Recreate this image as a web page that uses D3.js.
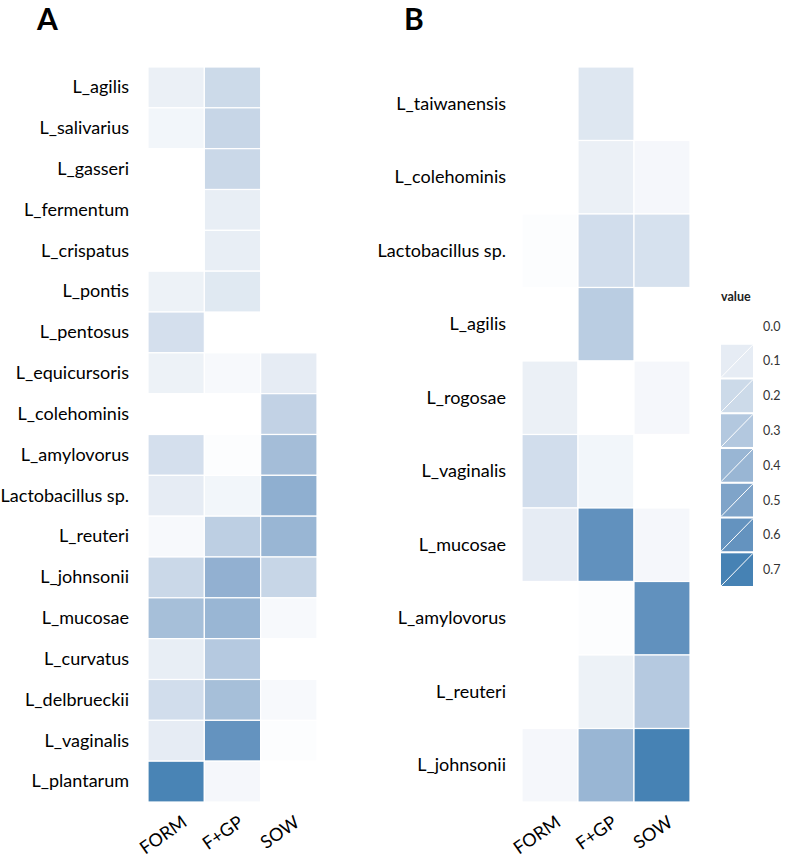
<!DOCTYPE html>
<html>
<head>
<meta charset="utf-8">
<script src="https://cdn.jsdelivr.net/npm/d3@7"></script>
<style>
  body { margin: 0; background: #fff; }
  text { font-family: Lato, sans-serif; }
</style>
</head>
<body>
<div id="app"></div>
<script>
// columns shared by both panels
var groups = ['FORM', 'F+GP', 'SOW'];

// panel A
var speciesA = ['L_agilis', 'L_salivarius', 'L_gasseri', 'L_fermentum', 'L_crispatus',
  'L_pontis', 'L_pentosus', 'L_equicursoris', 'L_colehominis', 'L_amylovorus',
  'Lactobacillus sp.', 'L_reuteri', 'L_johnsonii', 'L_mucosae', 'L_curvatus',
  'L_delbrueckii', 'L_vaginalis', 'L_plantarum'];
var formA = [0.08, 0.05, 0, 0, 0, 0.07, 0.17, 0.07, 0, 0.17, 0.10, 0.03, 0.21, 0.35, 0.09, 0.18, 0.10, 0.69];
var fgpA  = [0.20, 0.22, 0.21, 0.09, 0.09, 0.12, null, 0.03, 0, 0.01, 0.05, 0.26, 0.43, 0.40, 0.29, 0.35, 0.60, 0.04];
var sowA  = [null, null, null, null, null, null, null, 0.10, 0.24, 0.36, 0.44, 0.40, 0.22, 0.03, 0, 0.03, 0.01, 0];

// panel B
var speciesB = ['L_taiwanensis', 'L_colehominis', 'Lactobacillus sp.', 'L_agilis', 'L_rogosae',
  'L_vaginalis', 'L_mucosae', 'L_amylovorus', 'L_reuteri', 'L_johnsonii'];
var formB = [null, null, 0.01, null, 0.08, 0.18, 0.10, 0, 0, 0.04];
var fgpB  = [0.13, 0.08, 0.18, 0.27, 0, 0.05, 0.61, 0.01, 0.07, 0.40];
var sowB  = [null, 0.04, 0.16, null, 0.04, 0, 0.04, 0.61, 0.29, 0.70];

// legend
var legendTicks = [0.0, 0.1, 0.2, 0.3, 0.4, 0.5, 0.6, 0.7];

var width = 785, height = 859;

var svg = d3.select('#app').append('svg')
  .attr('width', width)
  .attr('height', height);

var color = d3.scaleLinear()
  .domain([0, 0.7])
  .range(['#ffffff', '#4682b4'])
  .interpolate(d3.interpolateLab)
  .clamp(true);

function toCells(species, cols) {
  var cells = [];
  species.forEach(function(s, i) {
    cols.forEach(function(col, j) {
      if (col[i] !== null) cells.push({ species: s, group: groups[j], value: col[i] });
    });
  });
  return cells;
}

function drawPanel(species, cols, x0, x1, labelGap, letter, letterX) {
  var x = d3.scaleBand().domain(groups).range([x0, x1]);
  var y = d3.scaleBand().domain(species).range([67, 802]);
  var g = svg.append('g');

  g.selectAll('rect.cell')
    .data(toCells(species, cols))
    .enter()
    .append('rect')
    .attr('class', 'cell')
    .attr('x', d => x(d.group))
    .attr('y', d => y(d.species))
    .attr('width', x.bandwidth())
    .attr('height', y.bandwidth())
    .attr('fill', d => color(d.value))
    .attr('stroke', '#fff')
    .attr('stroke-width', 1.2);

  // y labels
  var yAxis = g.append('g')
    .attr('transform', 'translate(' + (x0 - labelGap) + ',0)')
    .call(d3.axisLeft(y).tickSize(0).tickPadding(0));
  yAxis.select('.domain').remove();
  yAxis.selectAll('text')
    .attr('font-family', 'Lato, sans-serif')
    .attr('font-size', 18)
    .attr('fill', '#000');

  // x labels, rotated
  var xAxis = g.append('g')
    .attr('transform', 'translate(0,802)')
    .call(d3.axisBottom(x).tickSize(0).tickPadding(0));
  xAxis.select('.domain').remove();
  xAxis.selectAll('text')
    .attr('font-family', 'Lato, sans-serif')
    .attr('font-size', 18)
    .attr('fill', '#000')
    .attr('text-anchor', 'end')
    .attr('dy', 0)
    .attr('transform', 'translate(12,23) rotate(-35)');

  svg.append('text')
    .attr('x', letterX)
    .attr('y', 30)
    .attr('font-family', '"Liberation Sans", Arial, sans-serif')
    .attr('font-weight', 'bold')
    .attr('font-size', 30)
    .text(letter);
}

drawPanel(speciesA, [formA, fgpA, sowA], 148, 317, 19, 'A', 37);
drawPanel(speciesB, [formB, fgpB, sowB], 522, 690, 16, 'B', 404);

// legend
var leg = svg.append('g');
var ly = d3.scaleBand().domain(legendTicks).range([310, 586]).paddingInner(0.06);

leg.append('text')
  .attr('x', 721)
  .attr('y', 301)
  .attr('font-family', '"Liberation Sans", Arial, sans-serif')
  .attr('font-weight', 'bold')
  .attr('font-size', 12.5)
  .attr('fill', '#222')
  .text('value');

var keys = leg.selectAll('g.key')
  .data(legendTicks)
  .enter()
  .append('g')
  .attr('class', 'key')
  .attr('transform', d => 'translate(721,' + ly(d) + ')');

keys.append('rect')
  .attr('width', 32)
  .attr('height', ly.bandwidth())
  .attr('fill', d => color(d));

keys.append('line')
  .attr('x1', 0)
  .attr('y1', ly.bandwidth())
  .attr('x2', 32)
  .attr('y2', 0)
  .attr('stroke', '#fff')
  .attr('stroke-width', 1);

keys.append('text')
  .attr('x', 42)
  .attr('y', ly.bandwidth() / 2)
  .attr('dy', '0.35em')
  .attr('font-family', '"Liberation Sans", Arial, sans-serif')
  .attr('font-size', 12.5)
  .attr('fill', '#333')
  .text(d => d.toFixed(1));
</script>
</body>
</html>
